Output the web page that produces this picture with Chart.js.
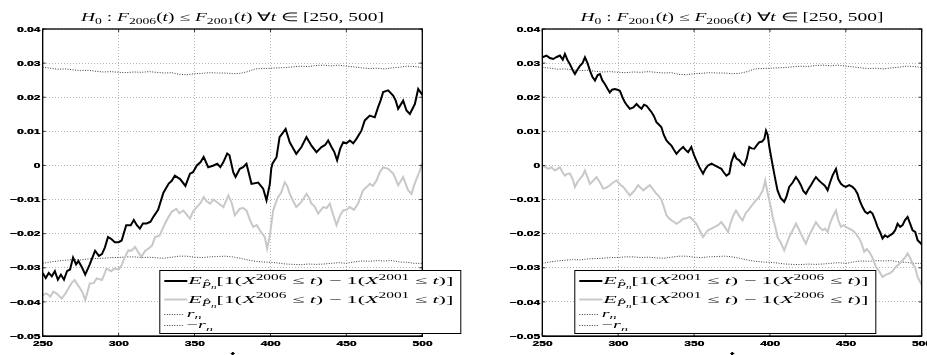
<!DOCTYPE html>
<html>
<head>
<meta charset="utf-8">
<script src="https://cdn.jsdelivr.net/npm/chart.js@4.4.1/dist/chart.umd.min.js"></script>
<style>
  html, body { margin: 0; padding: 0; background: #fff; }
  #wrap { position: relative; width: 927px; height: 355px; overflow: hidden; }
  .panel { position: absolute; top: 0; height: 355px; }
  #p1 { left: 0; width: 463px; }
  #p2 { left: 463px; width: 464px; }
</style>
</head>
<body>
<div id="wrap">
  <div class="panel" id="p1"><canvas id="c1" width="463" height="355"></canvas></div>
  <div class="panel" id="p2"><canvas id="c2" width="464" height="355"></canvas></div>
</div>
<script>
// ---- data ----
const yTicks = [-0.05, -0.04, -0.03, -0.02, -0.01, 0, 0.01, 0.02, 0.03, 0.04];
const xTicks = [250, 300, 350, 400, 450, 500];

// left panel, black: E[1(X2006<=t) - 1(X2001<=t)]
const leftBlackT = [250,252,254,256,258,260,262,264,266,268,
  270,272,273.5,276,278,281,284.5,287,289,291,
  293,295,297.5,300,302,305,308,310,312,314,
  316,318.5,321,323,326,329.5,333,335,337,340.5,
  344,347,349,351.5,354,356,359,362.5,365,367,
  369,371.5,373,375.5,377,379.8,382,384.2,387.5,391.9,
  395.2,397.4,399.6,400.5,401.3,404,406,408,410,412.7,
  415,417,420.4,423.7,427,430.3,433.6,436,438,440.2,
  442,443.9,446,447.9,450,452.3,454.5,456.6,459.9,462.1,
  465.4,468.7,470.9,472.5,474.2,477.5,480.8,482.5,484.1,487.4,
  489.6,491.8,495.1,497.3,499.5,500];
const leftBlack = [-0.0315,-0.033,-0.0315,-0.0325,-0.031,-0.0335,-0.032,-0.0335,-0.031,-0.0305,
  -0.027,-0.029,-0.028,-0.030,-0.032,-0.029,-0.025,-0.0265,-0.026,-0.024,
  -0.021,-0.0215,-0.0225,-0.0225,-0.022,-0.0175,-0.0175,-0.016,-0.0175,-0.0185,
  -0.017,-0.017,-0.0165,-0.015,-0.013,-0.008,-0.0053,-0.0045,-0.003,-0.004,
  -0.006,-0.0024,-0.002,0,0.001,0.0025,-0.0005,0,0.0005,-0.0005,
  0.001,0.0035,0.003,-0.002,-0.0034,-0.001,-0.0005,0.0005,-0.0054,-0.005,
  -0.0068,-0.0102,-0.0054,-0.001,0.0005,0.0024,0.0083,0.0095,0.0107,0.0068,
  0.005,0.0034,0.0054,0.0083,0.0058,0.0039,0.0054,0.006,0.0073,0.0054,
  0.004,0.0015,0.005,0.0068,0.0065,0.0073,0.0065,0.0078,0.0102,0.0132,
  0.0146,0.0141,0.0171,0.019,0.0215,0.022,0.0205,0.019,0.0166,0.019,
  0.0161,0.0151,0.018,0.0224,0.021,0.0215];

// left panel, gray
const leftGrayT = [250,252.5,255,257,259,262.5,265,267,269,271,
  273,274.6,276.5,278,281,283.5,285.6,289,290.5,292,
  295,297.6,300,302,304,306.4,308.5,310.8,313,315,
  317.5,319.6,322,324,327,330.6,333,335,338,340,
  342.6,345,347,349,351.4,354,356,358,360.2,362.5,
  364.6,367,369,372.3,374.5,376.5,379.8,382,384.2,386.5,
  388.6,391,393,396.3,397.8,399.6,401.8,403.5,405,407,
  409.4,411,412.7,415,417,420.4,423.7,425.5,427,429,
  431.4,434.7,437,439.1,441,443.5,446,447.9,450,452.3,
  455,457.7,461,463,465.4,467.5,469.8,472,474.2,477.5,
  480.8,482.5,484.1,487.4,490.7,492.9,494.5,496.2,498,499.5,
  500];
const leftGray = [-0.038,-0.0375,-0.0385,-0.037,-0.0375,-0.039,-0.0375,-0.036,-0.0345,-0.0336,
  -0.035,-0.036,-0.0375,-0.0395,-0.0346,-0.0345,-0.0331,-0.0336,-0.032,-0.0302,
  -0.031,-0.0302,-0.0305,-0.0292,-0.027,-0.0249,-0.025,-0.0239,-0.0255,-0.0268,
  -0.025,-0.0244,-0.0235,-0.021,-0.0205,-0.017,-0.015,-0.0136,-0.0127,-0.014,
  -0.0132,-0.0145,-0.0156,-0.0135,-0.0122,-0.011,-0.0093,-0.0105,-0.0112,-0.010,
  -0.0107,-0.0115,-0.0122,-0.0088,-0.011,-0.0146,-0.0127,-0.0125,-0.0132,-0.016,
  -0.018,-0.0175,-0.019,-0.021,-0.0244,-0.0205,-0.0132,-0.011,-0.0093,-0.008,
  -0.0049,-0.006,-0.0083,-0.0105,-0.0122,-0.0107,-0.0083,-0.0095,-0.0112,-0.012,
  -0.0141,-0.0122,-0.0125,-0.0112,-0.014,-0.0175,-0.0145,-0.0132,-0.013,-0.0122,
  -0.013,-0.0112,-0.0073,-0.0065,-0.0054,-0.006,-0.0044,-0.002,-0.0005,-0.001,
  -0.0024,-0.004,-0.0058,-0.0034,-0.0073,-0.0083,-0.006,-0.0039,-0.002,0,
  -0.0005];

// right panel, black: E[1(X2001<=t) - 1(X2006<=t)]
const rightBlackT = [250,252.8,255,257.2,259.5,261.6,263.5,264.9,266.5,268.2,
  270,271.5,273,274.8,276.5,278.1,279.8,281.4,283,284.7,
  286.5,288,289.5,291.2,293,294.5,296,297.8,299.5,301.1,
  302.8,304.4,306,307.7,310,312.1,313.8,315.4,317,318.7,
  320.4,322,323.5,325.2,326.8,328.5,330,331.8,333.5,335.1,
  336.8,338.4,340.5,342.8,344.5,346.1,348.2,350,351.5,353.5,
  355.9,357.5,359.2,361.5,363.6,365.8,368,369.5,371.3,373.2,
  374.6,376.5,378,379.8,381.5,383.1,384.7,386.4,388,389.7,
  391.5,393,394.8,396.3,397.4,398.5,399.6,401.8,403.5,405,
  407,409.4,411,412.7,415,417.1,418.8,420.4,422,423.7,
  425.3,427,428.7,430.3,432.5,434.7,436.3,438,439.6,441.3,
  443.5,445,446.8,448.5,450,452.2,454.4,456,457.7,459.3,
  461,462.6,464.3,466,467.6,469.3,470.9,472.5,474.2,475.8,
  477.5,479,480.8,482.5,484.1,485.8,487.4,489,490.7,492.3,
  494,495.7,497.3,499.5,500];
const rightBlack = [0.0317,0.0322,0.0315,0.0312,0.0318,0.0322,0.031,0.0327,0.031,0.0297,
  0.028,0.0268,0.028,0.0292,0.030,0.0317,0.030,0.0278,0.026,0.0249,
  0.0265,0.0268,0.025,0.0239,0.0225,0.0214,0.0222,0.0224,0.0222,0.0219,
  0.020,0.0185,0.0175,0.0166,0.017,0.018,0.0172,0.0166,0.0178,0.0175,
  0.0165,0.0156,0.0145,0.0127,0.012,0.0112,0.009,0.0073,0.0065,0.0058,
  0.0045,0.0034,0.0045,0.0054,0.0045,0.0039,0.0054,0.003,0.0015,-0.0005,
  -0.0024,-0.001,0,0.0005,0,-0.0005,-0.001,-0.002,-0.003,-0.0024,
  0.001,0.0034,0.002,0.0015,0.0005,0,0.002,0.0054,0.005,0.0049,
  0.006,0.0068,0.007,0.0078,0.0102,0.009,0.0054,0,-0.004,-0.0073,
  -0.0095,-0.0107,-0.009,-0.0063,-0.005,-0.0034,-0.0045,-0.0058,-0.0075,-0.0083,
  -0.007,-0.0058,-0.0045,-0.0034,-0.0045,-0.0054,-0.006,-0.0073,-0.005,-0.0029,
  -0.001,-0.004,-0.0054,-0.006,-0.0063,-0.0058,-0.0063,-0.007,-0.0083,-0.0105,
  -0.0122,-0.0135,-0.0141,-0.0135,-0.0141,-0.016,-0.018,-0.0195,-0.0214,-0.0205,
  -0.021,-0.0205,-0.02,-0.019,-0.0171,-0.018,-0.0175,-0.016,-0.0151,-0.017,
  -0.019,-0.0195,-0.0219,-0.0229,-0.0225];

// right panel, gray
const rightGrayT = [250,252,254,256,258.3,260,261.6,263.3,264.9,266.5,
  268.2,270,271.5,273,274.8,276.5,278.1,279.8,281.4,283.5,
  285.7,288,290.1,292.3,294.5,296.7,298.9,301,303.3,305.5,
  307.7,310.5,313.2,314.8,316.5,318.7,320.9,323,325.2,326.8,
  328.5,330,331.8,333.5,335.1,336.8,338.4,340.5,342.8,345,
  347.1,349.3,351.5,353.7,355.9,357.5,359.2,361.4,363.6,365.8,
  368,370.2,372.4,374,375.5,377.6,380,382,384,386.4,
  388.5,390.8,392.5,394.1,395.5,396.9,398,399.1,400.5,401.8,
  403.5,405,407,409.4,411,412.7,415,417.1,418.8,420.4,
  422,423.7,425.3,427,428.7,430.3,432.5,434.7,436.3,438,
  439.6,441.3,443.5,445,446.8,448.5,450,452.2,454.4,456.6,
  458.8,460.5,462.1,463.8,465.4,467.5,469.8,472,474.2,476.4,
  478.6,480.8,483,485,487.4,489,490.7,492.3,494,495.7,
  497.3,499.5,500];
const rightGray = [0,-0.0005,-0.001,-0.0005,-0.0015,-0.001,-0.0005,-0.002,-0.003,-0.0025,
  -0.0024,-0.004,-0.0063,-0.005,-0.0039,-0.003,-0.0015,-0.0035,-0.0054,-0.0045,
  -0.0034,-0.005,-0.0068,-0.0065,-0.0058,-0.005,-0.0044,-0.0055,-0.0063,-0.0075,
  -0.0088,-0.0075,-0.0058,-0.0065,-0.0073,-0.0065,-0.0058,-0.007,-0.0083,-0.009,
  -0.0102,-0.012,-0.0146,-0.0155,-0.0161,-0.0165,-0.0171,-0.0165,-0.0156,-0.0155,
  -0.0151,-0.016,-0.0171,-0.019,-0.021,-0.020,-0.019,-0.0185,-0.018,-0.0175,
  -0.0166,-0.018,-0.0195,-0.017,-0.015,-0.0132,-0.015,-0.0161,-0.014,-0.0127,
  -0.0115,-0.0102,-0.0095,-0.0083,-0.007,-0.0044,-0.007,-0.0093,-0.012,-0.0151,
  -0.018,-0.021,-0.0225,-0.0249,-0.023,-0.021,-0.019,-0.0171,-0.0185,-0.020,
  -0.0215,-0.0229,-0.021,-0.0195,-0.018,-0.0166,-0.018,-0.019,-0.0185,-0.0195,
  -0.017,-0.0151,-0.0132,-0.016,-0.018,-0.0175,-0.018,-0.0185,-0.019,-0.020,
  -0.0214,-0.023,-0.0253,-0.0245,-0.0253,-0.027,-0.0297,-0.031,-0.0327,-0.032,
  -0.0317,-0.031,-0.0297,-0.029,-0.0278,-0.027,-0.0258,-0.027,-0.0288,-0.030,
  -0.0327,-0.0346,-0.034];

// r_n and -r_n (same in both panels)
const rnT = [250,255,260,265,270,275,280,285,290,295,
  300,305,310,315,320,325,330,335,340,345,
  350,355,360,365,370,375,380,385,390,395,
  400,405,410,415,420,425,430,435,440,445,
  450,455,460,465,470,475,480,485,490,495,500];
const rnUpper = [0.0288,0.0285,0.0282,0.0283,0.028,0.0278,0.0279,0.0276,0.0274,0.0275,
  0.0273,0.0272,0.0274,0.0273,0.0275,0.0273,0.0271,0.0272,0.0267,0.0266,
  0.0269,0.027,0.0272,0.0271,0.0271,0.0269,0.027,0.0275,0.0283,0.0284,
  0.0285,0.0286,0.0287,0.0289,0.0291,0.029,0.0293,0.0294,0.0292,0.0294,
  0.0291,0.0289,0.0286,0.0284,0.0285,0.0283,0.0286,0.0288,0.0291,0.029,0.0287];
const rnLower = [-0.0287,-0.0283,-0.028,-0.0278,-0.0276,-0.0277,-0.0274,-0.0273,-0.0272,-0.027,
  -0.027,-0.0268,-0.0268,-0.027,-0.0269,-0.0271,-0.0272,-0.0269,-0.0266,-0.0266,
  -0.0269,-0.027,-0.0268,-0.0267,-0.0266,-0.0268,-0.0272,-0.0277,-0.0281,-0.0283,
  -0.0284,-0.0286,-0.0289,-0.029,-0.0291,-0.0289,-0.029,-0.0289,-0.0287,-0.0285,
  -0.0287,-0.0283,-0.028,-0.0281,-0.0279,-0.028,-0.0279,-0.0283,-0.0284,-0.0287,-0.0287];

// ---- styling ----
const BLACK = '#000000';
const GRAY = '#c8c8c8';
const DOT = '#3a3a3a';
const GRID = '#b4b4b4';
const TICK_FONT = 'bold 7.6px "Liberation Sans", Arial, sans-serif';
const TICK_SX = 1.58;
const MATH = '"Liberation Serif", "Times New Roman", serif';

const pts = (ts, vs) => ts.map((t, i) => ({ x: t, y: vs[i] }));

// rich text pieces (italic / roman / sub / sup)
const I = (t) => ({ t, it: true });
const R = (t) => ({ t });
const SUB = (t, it) => ({ t, it, s: 0.7, dy: 0.28 });
const SUP = (t) => ({ t, s: 0.7, dy: -0.42 });

const titleSegs = (a, b) => [I('H'), SUB('0'), R(' : '), I('F'), SUB(a), R('('), I('t'), R(') ≤ '),
  I('F'), SUB(b), R('('), I('t'), R(') ∀'), I('t'), R(' ∈ [250, 500]')];
const legendSegs = (a, b) => [I('E'), { t: 'P̂', it: true, s: 0.68, dy: 0.3 }, { t: 'n', it: true, s: 0.5, dy: 0.45 },
  R('[1('), I('X'), SUP(a), R(' ≤ '), I('t'), R(') − 1('), I('X'), SUP(b), R(' ≤ '), I('t'), R(')]')];
const rnSegs = [I('r'), SUB('n', true)];
const negRnSegs = [R('−'), I('r'), SUB('n', true)];

function segFont(seg, size) {
  return (seg.it ? 'italic ' : '') + (size * (seg.s || 1)).toFixed(2) + 'px ' + MATH;
}
function richWidth(ctx, segs, size) {
  let w = 0;
  segs.forEach((seg) => { ctx.font = segFont(seg, size); w += ctx.measureText(seg.t).width; });
  return w;
}
function drawRich(ctx, segs, x, y, size, sx) {
  ctx.save();
  ctx.translate(x, y);
  ctx.scale(sx, 1);
  ctx.textAlign = 'left';
  ctx.textBaseline = 'alphabetic';
  let cx = 0;
  segs.forEach((seg) => {
    ctx.font = segFont(seg, size);
    ctx.fillText(seg.t, cx, (seg.dy || 0) * size);
    cx += ctx.measureText(seg.t).width;
  });
  ctx.restore();
}
// horizontally stretched, heavy tick text
function stretchText(ctx, text, x, y, sx, align) {
  const w = ctx.measureText(text).width * sx;
  const x0 = align === 'right' ? x - w : align === 'center' ? x - w / 2 : x;
  ctx.save();
  ctx.translate(x0, y);
  ctx.scale(sx, 1);
  ctx.textAlign = 'left';
  ctx.fillText(text, 0, 0);
  ctx.fillText(text, 0.35, 0);
  ctx.restore();
}
const fmtY = (v) => Math.abs(v) < 1e-9 ? '0' : (v < 0 ? '−' : '') + Math.abs(v).toFixed(2);

function decor(cfg) {
  return {
    id: 'matlabDecor',
    afterDraw(chart) {
      const { ctx, chartArea: a, scales: { x, y } } = chart;
      ctx.save();

      // axes box + inward ticks
      ctx.strokeStyle = '#000';
      ctx.lineWidth = 1.3;
      ctx.strokeRect(a.left, a.top, a.right - a.left, a.bottom - a.top);
      ctx.lineWidth = 0.8;
      ctx.beginPath();
      x.ticks.forEach((t) => {
        const px = x.getPixelForValue(t.value);
        ctx.moveTo(px, a.bottom); ctx.lineTo(px, a.bottom - 3);
        ctx.moveTo(px, a.top); ctx.lineTo(px, a.top + 3);
      });
      y.ticks.forEach((t) => {
        const py = y.getPixelForValue(t.value);
        ctx.moveTo(a.left, py); ctx.lineTo(a.left + 3, py);
        ctx.moveTo(a.right, py); ctx.lineTo(a.right - 3, py);
      });
      ctx.stroke();

      // tick labels
      ctx.fillStyle = '#000';
      ctx.font = TICK_FONT;
      ctx.textBaseline = 'alphabetic';
      y.ticks.forEach((t) => {
        stretchText(ctx, fmtY(t.value), a.left - 2.5, y.getPixelForValue(t.value) + 2.7, TICK_SX, 'right');
      });
      x.ticks.forEach((t) => {
        stretchText(ctx, String(t.value), x.getPixelForValue(t.value), a.bottom + 10, TICK_SX, 'center');
      });
      ctx.font = 'bold 9px "Liberation Sans", Arial, sans-serif';
      stretchText(ctx, 't', (a.left + a.right) / 2, a.bottom + 22, 1.4, 'center');

      // title
      const tSize = 11.5;
      const tw = richWidth(ctx, cfg.title, tSize);
      const tsx = 303 / tw;
      drawRich(ctx, cfg.title, (a.left + a.right) / 2 - 303 / 2, 20.5, tSize, tsx);

      // legend
      const bx = cfg.legendX, by = 270, bw = 301, bh = 63;
      ctx.fillStyle = '#fff';
      ctx.fillRect(bx, by, bw, bh);
      ctx.strokeStyle = '#000';
      ctx.lineWidth = 1;
      ctx.strokeRect(bx + 0.5, by + 0.5, bw, bh);

      const lSize = 11;
      const lsx = 265 / richWidth(ctx, cfg.legend, lSize);
      const rows = [
        { segs: cfg.legend, ly: 281, ty: 284.3, color: BLACK, w: 2, dash: [] },
        { segs: cfg.legend, ly: 299.5, ty: 302.6, color: GRAY, w: 2, dash: [] },
        { segs: rnSegs, ly: 314.5, ty: 316.6, color: DOT, w: 1, dash: [1, 1.5] },
        { segs: negRnSegs, ly: 325.5, ty: 328, color: DOT, w: 1, dash: [1, 1.5] }
      ];
      rows.forEach((r, i) => {
        ctx.strokeStyle = r.color;
        ctx.lineWidth = r.w;
        ctx.setLineDash(r.dash);
        ctx.beginPath();
        ctx.moveTo(bx + 5, r.ly);
        ctx.lineTo(bx + (i < 2 ? 28 : 25), r.ly);
        ctx.stroke();
        ctx.setLineDash([]);
        ctx.fillStyle = '#000';
        drawRich(ctx, r.segs, bx + (i < 2 ? 29 : 27.5), r.ty, i < 2 ? lSize : 10, lsx);
      });
      ctx.restore();
    }
  };
}

function makePanel(canvasId, black, gray, cfg) {
  const canvas = document.getElementById(canvasId);
  return new Chart(canvas, {
    type: 'line',
    data: {
      datasets: [
        { label: 'black', data: black, borderColor: BLACK, borderWidth: 2 },
        { label: 'gray', data: gray, borderColor: GRAY, borderWidth: 2 },
        { label: 'r_n', data: pts(rnT, rnUpper), borderColor: DOT, borderWidth: 1, borderDash: [1, 1.5] },
        { label: '-r_n', data: pts(rnT, rnLower), borderColor: DOT, borderWidth: 1, borderDash: [1, 1.5] }
      ]
    },
    options: {
      responsive: false,
      animation: false,
      devicePixelRatio: 1,
      events: [],
      elements: { point: { radius: 0 }, line: { tension: 0, fill: false } },
      layout: { padding: { left: 0, top: 29, right: cfg.padRight, bottom: 0 } },
      plugins: { legend: { display: false }, title: { display: false }, tooltip: { enabled: false } },
      scales: {
        x: {
          type: 'linear',
          min: xTicks[0],
          max: xTicks[xTicks.length - 1],
          afterBuildTicks: (s) => { s.ticks = xTicks.map((v) => ({ value: v })); },
          afterFit: (s) => { s.height = 19; },
          ticks: { display: false },
          grid: { color: GRID, lineWidth: 1, drawTicks: false },
          border: { display: true, color: '#000', dash: [1, 2] }
        },
        y: {
          min: yTicks[0],
          max: yTicks[yTicks.length - 1],
          afterBuildTicks: (s) => { s.ticks = yTicks.map((v) => ({ value: v })); },
          afterFit: (s) => { s.width = cfg.axisW; },
          ticks: { display: false },
          grid: { color: GRID, lineWidth: 1, drawTicks: false },
          border: { display: true, color: '#000', dash: [1, 2] }
        }
      }
    },
    plugins: [decor(cfg)]
  });
}

makePanel('c1', pts(leftBlackT, leftBlack), pts(leftGrayT, leftGray), {
  axisW: 42.7, padRight: 463 - 422.3, legendX: 159.3,
  title: titleSegs('2006', '2001'), legend: legendSegs('2006', '2001')
});
makePanel('c2', pts(rightBlackT, rightBlack), pts(rightGrayT, rightGray), {
  axisW: 79.3, padRight: 464 - 458.7, legendX: 111.3,
  title: titleSegs('2001', '2006'), legend: legendSegs('2001', '2006')
});
</script>
</body>
</html>
